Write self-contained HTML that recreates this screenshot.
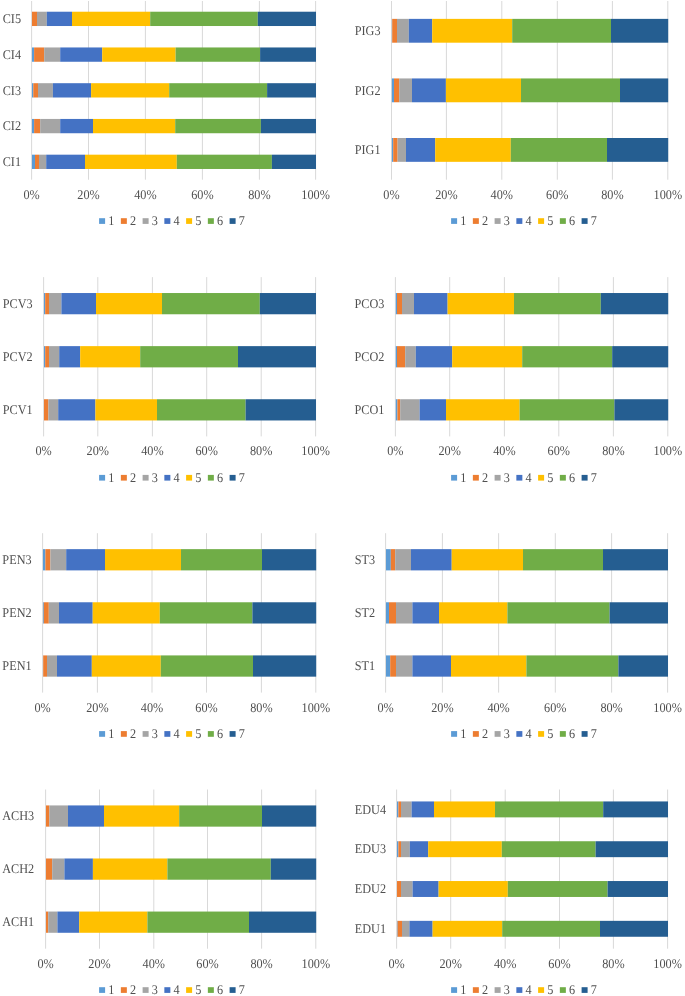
<!DOCTYPE html>
<html><head><meta charset="utf-8"><title>Charts</title>
<style>html,body{margin:0;padding:0;background:#fff;}svg{display:block;filter:blur(0.45px);}text{font-family:"Liberation Serif", serif;fill:#505050;text-rendering:geometricPrecision;}</style></head><body>
<svg width="685" height="996" viewBox="0 0 685 996">
<rect x="0" y="0" width="685" height="996" fill="#ffffff"/>
<g>
<rect x="31.1" y="1" width="1" height="178.7" fill="#D9D9D9"/>
<rect x="88" y="1" width="1" height="178.7" fill="#D9D9D9"/>
<rect x="144.9" y="1" width="1" height="178.7" fill="#D9D9D9"/>
<rect x="201.9" y="1" width="1" height="178.7" fill="#D9D9D9"/>
<rect x="258.9" y="1" width="1" height="178.7" fill="#D9D9D9"/>
<rect x="315.1" y="1" width="1" height="178.7" fill="#D9D9D9"/>
<rect x="32" y="11.72" width="5" height="14.3" fill="#ED7D31"/>
<rect x="37" y="11.72" width="9.8" height="14.3" fill="#A5A5A5"/>
<rect x="46.8" y="11.72" width="25.2" height="14.3" fill="#4472C4"/>
<rect x="72" y="11.72" width="78.2" height="14.3" fill="#FFC000"/>
<rect x="150.2" y="11.72" width="107.6" height="14.3" fill="#70AD47"/>
<rect x="257.8" y="11.72" width="58.2" height="14.3" fill="#255E91"/>
<text transform="translate(21,23.07) scale(0.92,1)" font-size="13.3" text-anchor="end">CI5</text>
<rect x="32" y="47.46" width="2.1" height="14.3" fill="#5B9BD5"/>
<rect x="34.1" y="47.46" width="10.1" height="14.3" fill="#ED7D31"/>
<rect x="44.2" y="47.46" width="16" height="14.3" fill="#A5A5A5"/>
<rect x="60.2" y="47.46" width="42" height="14.3" fill="#4472C4"/>
<rect x="102.2" y="47.46" width="73.4" height="14.3" fill="#FFC000"/>
<rect x="175.6" y="47.46" width="84.5" height="14.3" fill="#70AD47"/>
<rect x="260.1" y="47.46" width="55.9" height="14.3" fill="#255E91"/>
<text transform="translate(21,58.81) scale(0.92,1)" font-size="13.3" text-anchor="end">CI4</text>
<rect x="32" y="83.2" width="1.3" height="14.3" fill="#5B9BD5"/>
<rect x="33.3" y="83.2" width="4.7" height="14.3" fill="#ED7D31"/>
<rect x="38" y="83.2" width="14.9" height="14.3" fill="#A5A5A5"/>
<rect x="52.9" y="83.2" width="38.2" height="14.3" fill="#4472C4"/>
<rect x="91.1" y="83.2" width="78.1" height="14.3" fill="#FFC000"/>
<rect x="169.2" y="83.2" width="97.9" height="14.3" fill="#70AD47"/>
<rect x="267.1" y="83.2" width="48.9" height="14.3" fill="#255E91"/>
<text transform="translate(21,94.55) scale(0.92,1)" font-size="13.3" text-anchor="end">CI3</text>
<rect x="32" y="118.94" width="2.1" height="14.3" fill="#5B9BD5"/>
<rect x="34.1" y="118.94" width="6.1" height="14.3" fill="#ED7D31"/>
<rect x="40.2" y="118.94" width="20" height="14.3" fill="#A5A5A5"/>
<rect x="60.2" y="118.94" width="32.8" height="14.3" fill="#4472C4"/>
<rect x="93" y="118.94" width="82.2" height="14.3" fill="#FFC000"/>
<rect x="175.2" y="118.94" width="85.7" height="14.3" fill="#70AD47"/>
<rect x="260.9" y="118.94" width="55.1" height="14.3" fill="#255E91"/>
<text transform="translate(21,130.29) scale(0.92,1)" font-size="13.3" text-anchor="end">CI2</text>
<rect x="32" y="154.68" width="3" height="14.3" fill="#5B9BD5"/>
<rect x="35" y="154.68" width="4" height="14.3" fill="#ED7D31"/>
<rect x="39" y="154.68" width="7.2" height="14.3" fill="#A5A5A5"/>
<rect x="46.2" y="154.68" width="38.8" height="14.3" fill="#4472C4"/>
<rect x="85" y="154.68" width="91.8" height="14.3" fill="#FFC000"/>
<rect x="176.8" y="154.68" width="95.1" height="14.3" fill="#70AD47"/>
<rect x="271.9" y="154.68" width="44.1" height="14.3" fill="#255E91"/>
<text transform="translate(21,166.03) scale(0.92,1)" font-size="13.3" text-anchor="end">CI1</text>
<text transform="translate(31.6,198.6) scale(0.92,1)" font-size="13.3" text-anchor="middle">0%</text>
<text transform="translate(88.5,198.6) scale(0.92,1)" font-size="13.3" text-anchor="middle">20%</text>
<text transform="translate(145.4,198.6) scale(0.92,1)" font-size="13.3" text-anchor="middle">40%</text>
<text transform="translate(202.4,198.6) scale(0.92,1)" font-size="13.3" text-anchor="middle">60%</text>
<text transform="translate(259.4,198.6) scale(0.92,1)" font-size="13.3" text-anchor="middle">80%</text>
<text transform="translate(315.6,198.6) scale(0.92,1)" font-size="13.3" text-anchor="middle">100%</text>
<rect x="99.1" y="218.2" width="6" height="5.7" fill="#5B9BD5"/>
<text transform="translate(108.3,224.8) scale(0.92,1)" font-size="13.3">1</text>
<rect x="120.85" y="218.2" width="6" height="5.7" fill="#ED7D31"/>
<text transform="translate(130.05,224.8) scale(0.92,1)" font-size="13.3">2</text>
<rect x="142.6" y="218.2" width="6" height="5.7" fill="#A5A5A5"/>
<text transform="translate(151.8,224.8) scale(0.92,1)" font-size="13.3">3</text>
<rect x="164.35" y="218.2" width="6" height="5.7" fill="#4472C4"/>
<text transform="translate(173.55,224.8) scale(0.92,1)" font-size="13.3">4</text>
<rect x="186.1" y="218.2" width="6" height="5.7" fill="#FFC000"/>
<text transform="translate(195.3,224.8) scale(0.92,1)" font-size="13.3">5</text>
<rect x="207.85" y="218.2" width="6" height="5.7" fill="#70AD47"/>
<text transform="translate(217.05,224.8) scale(0.92,1)" font-size="13.3">6</text>
<rect x="229.6" y="218.2" width="6" height="5.7" fill="#255E91"/>
<text transform="translate(238.8,224.8) scale(0.92,1)" font-size="13.3">7</text>
</g>
<g>
<rect x="391" y="1" width="1" height="178.7" fill="#D9D9D9"/>
<rect x="445.9" y="1" width="1" height="178.7" fill="#D9D9D9"/>
<rect x="501.3" y="1" width="1" height="178.7" fill="#D9D9D9"/>
<rect x="556.8" y="1" width="1" height="178.7" fill="#D9D9D9"/>
<rect x="611.9" y="1" width="1" height="178.7" fill="#D9D9D9"/>
<rect x="667.3" y="1" width="1" height="178.7" fill="#D9D9D9"/>
<rect x="391.9" y="18.87" width="0.3" height="23.83" fill="#5B9BD5"/>
<rect x="392.2" y="18.87" width="4.8" height="23.83" fill="#ED7D31"/>
<rect x="397" y="18.87" width="11.8" height="23.83" fill="#A5A5A5"/>
<rect x="408.8" y="18.87" width="23.4" height="23.83" fill="#4472C4"/>
<rect x="432.2" y="18.87" width="80" height="23.83" fill="#FFC000"/>
<rect x="512.2" y="18.87" width="98.8" height="23.83" fill="#70AD47"/>
<rect x="611" y="18.87" width="57.2" height="23.83" fill="#255E91"/>
<text transform="translate(380.5,34.98) scale(0.92,1)" font-size="13.3" text-anchor="end">PIG3</text>
<rect x="391.9" y="78.44" width="2.1" height="23.83" fill="#5B9BD5"/>
<rect x="394" y="78.44" width="5.2" height="23.83" fill="#ED7D31"/>
<rect x="399.2" y="78.44" width="12.8" height="23.83" fill="#A5A5A5"/>
<rect x="412" y="78.44" width="33.9" height="23.83" fill="#4472C4"/>
<rect x="445.9" y="78.44" width="75.1" height="23.83" fill="#FFC000"/>
<rect x="521" y="78.44" width="99" height="23.83" fill="#70AD47"/>
<rect x="620" y="78.44" width="48.2" height="23.83" fill="#255E91"/>
<text transform="translate(380.5,94.55) scale(0.92,1)" font-size="13.3" text-anchor="end">PIG2</text>
<rect x="391.9" y="138" width="1.3" height="23.83" fill="#5B9BD5"/>
<rect x="393.2" y="138" width="4.4" height="23.83" fill="#ED7D31"/>
<rect x="397.6" y="138" width="8.4" height="23.83" fill="#A5A5A5"/>
<rect x="406" y="138" width="29.2" height="23.83" fill="#4472C4"/>
<rect x="435.2" y="138" width="75.6" height="23.83" fill="#FFC000"/>
<rect x="510.8" y="138" width="96.2" height="23.83" fill="#70AD47"/>
<rect x="607" y="138" width="61.2" height="23.83" fill="#255E91"/>
<text transform="translate(380.5,154.12) scale(0.92,1)" font-size="13.3" text-anchor="end">PIG1</text>
<text transform="translate(391.5,198.6) scale(0.92,1)" font-size="13.3" text-anchor="middle">0%</text>
<text transform="translate(446.4,198.6) scale(0.92,1)" font-size="13.3" text-anchor="middle">20%</text>
<text transform="translate(501.8,198.6) scale(0.92,1)" font-size="13.3" text-anchor="middle">40%</text>
<text transform="translate(557.3,198.6) scale(0.92,1)" font-size="13.3" text-anchor="middle">60%</text>
<text transform="translate(612.4,198.6) scale(0.92,1)" font-size="13.3" text-anchor="middle">80%</text>
<text transform="translate(667.8,198.6) scale(0.92,1)" font-size="13.3" text-anchor="middle">100%</text>
<rect x="451.1" y="218.2" width="6" height="5.7" fill="#5B9BD5"/>
<text transform="translate(460.3,224.8) scale(0.92,1)" font-size="13.3">1</text>
<rect x="472.85" y="218.2" width="6" height="5.7" fill="#ED7D31"/>
<text transform="translate(482.05,224.8) scale(0.92,1)" font-size="13.3">2</text>
<rect x="494.6" y="218.2" width="6" height="5.7" fill="#A5A5A5"/>
<text transform="translate(503.8,224.8) scale(0.92,1)" font-size="13.3">3</text>
<rect x="516.35" y="218.2" width="6" height="5.7" fill="#4472C4"/>
<text transform="translate(525.55,224.8) scale(0.92,1)" font-size="13.3">4</text>
<rect x="538.1" y="218.2" width="6" height="5.7" fill="#FFC000"/>
<text transform="translate(547.3,224.8) scale(0.92,1)" font-size="13.3">5</text>
<rect x="559.85" y="218.2" width="6" height="5.7" fill="#70AD47"/>
<text transform="translate(569.05,224.8) scale(0.92,1)" font-size="13.3">6</text>
<rect x="581.6" y="218.2" width="6" height="5.7" fill="#255E91"/>
<text transform="translate(590.8,224.8) scale(0.92,1)" font-size="13.3">7</text>
</g>
<g>
<rect x="43.1" y="277.1" width="1" height="159.3" fill="#D9D9D9"/>
<rect x="97.3" y="277.1" width="1" height="159.3" fill="#D9D9D9"/>
<rect x="151.9" y="277.1" width="1" height="159.3" fill="#D9D9D9"/>
<rect x="206.2" y="277.1" width="1" height="159.3" fill="#D9D9D9"/>
<rect x="260.7" y="277.1" width="1" height="159.3" fill="#D9D9D9"/>
<rect x="315.1" y="277.1" width="1" height="159.3" fill="#D9D9D9"/>
<rect x="44" y="293.03" width="1.2" height="21.24" fill="#5B9BD5"/>
<rect x="45.2" y="293.03" width="3.8" height="21.24" fill="#ED7D31"/>
<rect x="49" y="293.03" width="12.4" height="21.24" fill="#A5A5A5"/>
<rect x="61.4" y="293.03" width="34.6" height="21.24" fill="#4472C4"/>
<rect x="96" y="293.03" width="66" height="21.24" fill="#FFC000"/>
<rect x="162" y="293.03" width="97.8" height="21.24" fill="#70AD47"/>
<rect x="259.8" y="293.03" width="56.2" height="21.24" fill="#255E91"/>
<text transform="translate(32.6,307.85) scale(0.92,1)" font-size="13.3" text-anchor="end">PCV3</text>
<rect x="44" y="346.13" width="1.2" height="21.24" fill="#5B9BD5"/>
<rect x="45.2" y="346.13" width="3.8" height="21.24" fill="#ED7D31"/>
<rect x="49" y="346.13" width="10.2" height="21.24" fill="#A5A5A5"/>
<rect x="59.2" y="346.13" width="21" height="21.24" fill="#4472C4"/>
<rect x="80.2" y="346.13" width="60" height="21.24" fill="#FFC000"/>
<rect x="140.2" y="346.13" width="97.8" height="21.24" fill="#70AD47"/>
<rect x="238" y="346.13" width="78" height="21.24" fill="#255E91"/>
<text transform="translate(32.6,360.95) scale(0.92,1)" font-size="13.3" text-anchor="end">PCV2</text>
<rect x="44" y="399.23" width="4.4" height="21.24" fill="#ED7D31"/>
<rect x="48.4" y="399.23" width="9.8" height="21.24" fill="#A5A5A5"/>
<rect x="58.2" y="399.23" width="37.2" height="21.24" fill="#4472C4"/>
<rect x="95.4" y="399.23" width="61.6" height="21.24" fill="#FFC000"/>
<rect x="157" y="399.23" width="88.6" height="21.24" fill="#70AD47"/>
<rect x="245.6" y="399.23" width="70.4" height="21.24" fill="#255E91"/>
<text transform="translate(32.6,414.05) scale(0.92,1)" font-size="13.3" text-anchor="end">PCV1</text>
<text transform="translate(43.6,455.3) scale(0.92,1)" font-size="13.3" text-anchor="middle">0%</text>
<text transform="translate(97.8,455.3) scale(0.92,1)" font-size="13.3" text-anchor="middle">20%</text>
<text transform="translate(152.4,455.3) scale(0.92,1)" font-size="13.3" text-anchor="middle">40%</text>
<text transform="translate(206.7,455.3) scale(0.92,1)" font-size="13.3" text-anchor="middle">60%</text>
<text transform="translate(261.2,455.3) scale(0.92,1)" font-size="13.3" text-anchor="middle">80%</text>
<text transform="translate(315.6,455.3) scale(0.92,1)" font-size="13.3" text-anchor="middle">100%</text>
<rect x="99.1" y="474.9" width="6" height="5.7" fill="#5B9BD5"/>
<text transform="translate(108.3,481.5) scale(0.92,1)" font-size="13.3">1</text>
<rect x="120.85" y="474.9" width="6" height="5.7" fill="#ED7D31"/>
<text transform="translate(130.05,481.5) scale(0.92,1)" font-size="13.3">2</text>
<rect x="142.6" y="474.9" width="6" height="5.7" fill="#A5A5A5"/>
<text transform="translate(151.8,481.5) scale(0.92,1)" font-size="13.3">3</text>
<rect x="164.35" y="474.9" width="6" height="5.7" fill="#4472C4"/>
<text transform="translate(173.55,481.5) scale(0.92,1)" font-size="13.3">4</text>
<rect x="186.1" y="474.9" width="6" height="5.7" fill="#FFC000"/>
<text transform="translate(195.3,481.5) scale(0.92,1)" font-size="13.3">5</text>
<rect x="207.85" y="474.9" width="6" height="5.7" fill="#70AD47"/>
<text transform="translate(217.05,481.5) scale(0.92,1)" font-size="13.3">6</text>
<rect x="229.6" y="474.9" width="6" height="5.7" fill="#255E91"/>
<text transform="translate(238.8,481.5) scale(0.92,1)" font-size="13.3">7</text>
</g>
<g>
<rect x="394.9" y="277.1" width="1" height="159.3" fill="#D9D9D9"/>
<rect x="449.2" y="277.1" width="1" height="159.3" fill="#D9D9D9"/>
<rect x="503.9" y="277.1" width="1" height="159.3" fill="#D9D9D9"/>
<rect x="558.3" y="277.1" width="1" height="159.3" fill="#D9D9D9"/>
<rect x="612.9" y="277.1" width="1" height="159.3" fill="#D9D9D9"/>
<rect x="667.3" y="277.1" width="1" height="159.3" fill="#D9D9D9"/>
<rect x="395.8" y="293.03" width="1.2" height="21.24" fill="#5B9BD5"/>
<rect x="397" y="293.03" width="5" height="21.24" fill="#ED7D31"/>
<rect x="402" y="293.03" width="12" height="21.24" fill="#A5A5A5"/>
<rect x="414" y="293.03" width="33.6" height="21.24" fill="#4472C4"/>
<rect x="447.6" y="293.03" width="66.4" height="21.24" fill="#FFC000"/>
<rect x="514" y="293.03" width="86.8" height="21.24" fill="#70AD47"/>
<rect x="600.8" y="293.03" width="67.4" height="21.24" fill="#255E91"/>
<text transform="translate(384.4,307.85) scale(0.92,1)" font-size="13.3" text-anchor="end">PCO3</text>
<rect x="395.8" y="346.13" width="1.2" height="21.24" fill="#5B9BD5"/>
<rect x="397" y="346.13" width="8.2" height="21.24" fill="#ED7D31"/>
<rect x="405.2" y="346.13" width="10.6" height="21.24" fill="#A5A5A5"/>
<rect x="415.8" y="346.13" width="36.4" height="21.24" fill="#4472C4"/>
<rect x="452.2" y="346.13" width="70" height="21.24" fill="#FFC000"/>
<rect x="522.2" y="346.13" width="90" height="21.24" fill="#70AD47"/>
<rect x="612.2" y="346.13" width="56" height="21.24" fill="#255E91"/>
<text transform="translate(384.4,360.95) scale(0.92,1)" font-size="13.3" text-anchor="end">PCO2</text>
<rect x="395.8" y="399.23" width="1.6" height="21.24" fill="#5B9BD5"/>
<rect x="397.4" y="399.23" width="2.8" height="21.24" fill="#ED7D31"/>
<rect x="400.2" y="399.23" width="19.4" height="21.24" fill="#A5A5A5"/>
<rect x="419.6" y="399.23" width="26.4" height="21.24" fill="#4472C4"/>
<rect x="446" y="399.23" width="73.6" height="21.24" fill="#FFC000"/>
<rect x="519.6" y="399.23" width="94.8" height="21.24" fill="#70AD47"/>
<rect x="614.4" y="399.23" width="53.8" height="21.24" fill="#255E91"/>
<text transform="translate(384.4,414.05) scale(0.92,1)" font-size="13.3" text-anchor="end">PCO1</text>
<text transform="translate(395.4,455.3) scale(0.92,1)" font-size="13.3" text-anchor="middle">0%</text>
<text transform="translate(449.7,455.3) scale(0.92,1)" font-size="13.3" text-anchor="middle">20%</text>
<text transform="translate(504.4,455.3) scale(0.92,1)" font-size="13.3" text-anchor="middle">40%</text>
<text transform="translate(558.8,455.3) scale(0.92,1)" font-size="13.3" text-anchor="middle">60%</text>
<text transform="translate(613.4,455.3) scale(0.92,1)" font-size="13.3" text-anchor="middle">80%</text>
<text transform="translate(667.8,455.3) scale(0.92,1)" font-size="13.3" text-anchor="middle">100%</text>
<rect x="451.1" y="474.9" width="6" height="5.7" fill="#5B9BD5"/>
<text transform="translate(460.3,481.5) scale(0.92,1)" font-size="13.3">1</text>
<rect x="472.85" y="474.9" width="6" height="5.7" fill="#ED7D31"/>
<text transform="translate(482.05,481.5) scale(0.92,1)" font-size="13.3">2</text>
<rect x="494.6" y="474.9" width="6" height="5.7" fill="#A5A5A5"/>
<text transform="translate(503.8,481.5) scale(0.92,1)" font-size="13.3">3</text>
<rect x="516.35" y="474.9" width="6" height="5.7" fill="#4472C4"/>
<text transform="translate(525.55,481.5) scale(0.92,1)" font-size="13.3">4</text>
<rect x="538.1" y="474.9" width="6" height="5.7" fill="#FFC000"/>
<text transform="translate(547.3,481.5) scale(0.92,1)" font-size="13.3">5</text>
<rect x="559.85" y="474.9" width="6" height="5.7" fill="#70AD47"/>
<text transform="translate(569.05,481.5) scale(0.92,1)" font-size="13.3">6</text>
<rect x="581.6" y="474.9" width="6" height="5.7" fill="#255E91"/>
<text transform="translate(590.8,481.5) scale(0.92,1)" font-size="13.3">7</text>
</g>
<g>
<rect x="42.1" y="533.2" width="1" height="159.4" fill="#D9D9D9"/>
<rect x="96.9" y="533.2" width="1" height="159.4" fill="#D9D9D9"/>
<rect x="151.5" y="533.2" width="1" height="159.4" fill="#D9D9D9"/>
<rect x="206" y="533.2" width="1" height="159.4" fill="#D9D9D9"/>
<rect x="260.9" y="533.2" width="1" height="159.4" fill="#D9D9D9"/>
<rect x="315.3" y="533.2" width="1" height="159.4" fill="#D9D9D9"/>
<rect x="43" y="549.14" width="2.4" height="21.25" fill="#5B9BD5"/>
<rect x="45.4" y="549.14" width="5" height="21.25" fill="#ED7D31"/>
<rect x="50.4" y="549.14" width="15.8" height="21.25" fill="#A5A5A5"/>
<rect x="66.2" y="549.14" width="38.8" height="21.25" fill="#4472C4"/>
<rect x="105" y="549.14" width="76" height="21.25" fill="#FFC000"/>
<rect x="181" y="549.14" width="81" height="21.25" fill="#70AD47"/>
<rect x="262" y="549.14" width="54.2" height="21.25" fill="#255E91"/>
<text transform="translate(31.6,563.97) scale(0.92,1)" font-size="13.3" text-anchor="end">PEN3</text>
<rect x="43" y="602.27" width="0.8" height="21.25" fill="#5B9BD5"/>
<rect x="43.8" y="602.27" width="5" height="21.25" fill="#ED7D31"/>
<rect x="48.8" y="602.27" width="10.2" height="21.25" fill="#A5A5A5"/>
<rect x="59" y="602.27" width="33.7" height="21.25" fill="#4472C4"/>
<rect x="92.7" y="602.27" width="67.1" height="21.25" fill="#FFC000"/>
<rect x="159.8" y="602.27" width="92.6" height="21.25" fill="#70AD47"/>
<rect x="252.4" y="602.27" width="63.8" height="21.25" fill="#255E91"/>
<text transform="translate(31.6,617.1) scale(0.92,1)" font-size="13.3" text-anchor="end">PEN2</text>
<rect x="43" y="655.41" width="0.2" height="21.25" fill="#5B9BD5"/>
<rect x="43.2" y="655.41" width="3.8" height="21.25" fill="#ED7D31"/>
<rect x="47" y="655.41" width="10" height="21.25" fill="#A5A5A5"/>
<rect x="57" y="655.41" width="34.8" height="21.25" fill="#4472C4"/>
<rect x="91.8" y="655.41" width="69" height="21.25" fill="#FFC000"/>
<rect x="160.8" y="655.41" width="92.2" height="21.25" fill="#70AD47"/>
<rect x="253" y="655.41" width="63.2" height="21.25" fill="#255E91"/>
<text transform="translate(31.6,670.23) scale(0.92,1)" font-size="13.3" text-anchor="end">PEN1</text>
<text transform="translate(42.6,711.5) scale(0.92,1)" font-size="13.3" text-anchor="middle">0%</text>
<text transform="translate(97.4,711.5) scale(0.92,1)" font-size="13.3" text-anchor="middle">20%</text>
<text transform="translate(152,711.5) scale(0.92,1)" font-size="13.3" text-anchor="middle">40%</text>
<text transform="translate(206.5,711.5) scale(0.92,1)" font-size="13.3" text-anchor="middle">60%</text>
<text transform="translate(261.4,711.5) scale(0.92,1)" font-size="13.3" text-anchor="middle">80%</text>
<text transform="translate(315.8,711.5) scale(0.92,1)" font-size="13.3" text-anchor="middle">100%</text>
<rect x="99.1" y="731.1" width="6" height="5.7" fill="#5B9BD5"/>
<text transform="translate(108.3,737.7) scale(0.92,1)" font-size="13.3">1</text>
<rect x="120.85" y="731.1" width="6" height="5.7" fill="#ED7D31"/>
<text transform="translate(130.05,737.7) scale(0.92,1)" font-size="13.3">2</text>
<rect x="142.6" y="731.1" width="6" height="5.7" fill="#A5A5A5"/>
<text transform="translate(151.8,737.7) scale(0.92,1)" font-size="13.3">3</text>
<rect x="164.35" y="731.1" width="6" height="5.7" fill="#4472C4"/>
<text transform="translate(173.55,737.7) scale(0.92,1)" font-size="13.3">4</text>
<rect x="186.1" y="731.1" width="6" height="5.7" fill="#FFC000"/>
<text transform="translate(195.3,737.7) scale(0.92,1)" font-size="13.3">5</text>
<rect x="207.85" y="731.1" width="6" height="5.7" fill="#70AD47"/>
<text transform="translate(217.05,737.7) scale(0.92,1)" font-size="13.3">6</text>
<rect x="229.6" y="731.1" width="6" height="5.7" fill="#255E91"/>
<text transform="translate(238.8,737.7) scale(0.92,1)" font-size="13.3">7</text>
</g>
<g>
<rect x="385.1" y="533.2" width="1" height="159.4" fill="#D9D9D9"/>
<rect x="441.9" y="533.2" width="1" height="159.4" fill="#D9D9D9"/>
<rect x="498.1" y="533.2" width="1" height="159.4" fill="#D9D9D9"/>
<rect x="554.8" y="533.2" width="1" height="159.4" fill="#D9D9D9"/>
<rect x="611.1" y="533.2" width="1" height="159.4" fill="#D9D9D9"/>
<rect x="667.1" y="533.2" width="1" height="159.4" fill="#D9D9D9"/>
<rect x="386" y="549.14" width="4.8" height="21.25" fill="#5B9BD5"/>
<rect x="390.8" y="549.14" width="4.4" height="21.25" fill="#ED7D31"/>
<rect x="395.2" y="549.14" width="15.8" height="21.25" fill="#A5A5A5"/>
<rect x="411" y="549.14" width="40.7" height="21.25" fill="#4472C4"/>
<rect x="451.7" y="549.14" width="71.3" height="21.25" fill="#FFC000"/>
<rect x="523" y="549.14" width="80" height="21.25" fill="#70AD47"/>
<rect x="603" y="549.14" width="65" height="21.25" fill="#255E91"/>
<text transform="translate(375.1,563.97) scale(0.92,1)" font-size="13.3" text-anchor="end">ST3</text>
<rect x="386" y="602.27" width="3" height="21.25" fill="#5B9BD5"/>
<rect x="389" y="602.27" width="7" height="21.25" fill="#ED7D31"/>
<rect x="396" y="602.27" width="16.4" height="21.25" fill="#A5A5A5"/>
<rect x="412.4" y="602.27" width="26.6" height="21.25" fill="#4472C4"/>
<rect x="439" y="602.27" width="68.4" height="21.25" fill="#FFC000"/>
<rect x="507.4" y="602.27" width="102.2" height="21.25" fill="#70AD47"/>
<rect x="609.6" y="602.27" width="58.4" height="21.25" fill="#255E91"/>
<text transform="translate(375.1,617.1) scale(0.92,1)" font-size="13.3" text-anchor="end">ST2</text>
<rect x="386" y="655.41" width="4.2" height="21.25" fill="#5B9BD5"/>
<rect x="390.2" y="655.41" width="5.8" height="21.25" fill="#ED7D31"/>
<rect x="396" y="655.41" width="16.4" height="21.25" fill="#A5A5A5"/>
<rect x="412.4" y="655.41" width="38.6" height="21.25" fill="#4472C4"/>
<rect x="451" y="655.41" width="75.4" height="21.25" fill="#FFC000"/>
<rect x="526.4" y="655.41" width="92" height="21.25" fill="#70AD47"/>
<rect x="618.4" y="655.41" width="49.6" height="21.25" fill="#255E91"/>
<text transform="translate(375.1,670.23) scale(0.92,1)" font-size="13.3" text-anchor="end">ST1</text>
<text transform="translate(385.6,711.5) scale(0.92,1)" font-size="13.3" text-anchor="middle">0%</text>
<text transform="translate(442.4,711.5) scale(0.92,1)" font-size="13.3" text-anchor="middle">20%</text>
<text transform="translate(498.6,711.5) scale(0.92,1)" font-size="13.3" text-anchor="middle">40%</text>
<text transform="translate(555.3,711.5) scale(0.92,1)" font-size="13.3" text-anchor="middle">60%</text>
<text transform="translate(611.6,711.5) scale(0.92,1)" font-size="13.3" text-anchor="middle">80%</text>
<text transform="translate(667.6,711.5) scale(0.92,1)" font-size="13.3" text-anchor="middle">100%</text>
<rect x="451.1" y="731.1" width="6" height="5.7" fill="#5B9BD5"/>
<text transform="translate(460.3,737.7) scale(0.92,1)" font-size="13.3">1</text>
<rect x="472.85" y="731.1" width="6" height="5.7" fill="#ED7D31"/>
<text transform="translate(482.05,737.7) scale(0.92,1)" font-size="13.3">2</text>
<rect x="494.6" y="731.1" width="6" height="5.7" fill="#A5A5A5"/>
<text transform="translate(503.8,737.7) scale(0.92,1)" font-size="13.3">3</text>
<rect x="516.35" y="731.1" width="6" height="5.7" fill="#4472C4"/>
<text transform="translate(525.55,737.7) scale(0.92,1)" font-size="13.3">4</text>
<rect x="538.1" y="731.1" width="6" height="5.7" fill="#FFC000"/>
<text transform="translate(547.3,737.7) scale(0.92,1)" font-size="13.3">5</text>
<rect x="559.85" y="731.1" width="6" height="5.7" fill="#70AD47"/>
<text transform="translate(569.05,737.7) scale(0.92,1)" font-size="13.3">6</text>
<rect x="581.6" y="731.1" width="6" height="5.7" fill="#255E91"/>
<text transform="translate(590.8,737.7) scale(0.92,1)" font-size="13.3">7</text>
</g>
<g>
<rect x="45.1" y="789.5" width="1" height="159.2" fill="#D9D9D9"/>
<rect x="99" y="789.5" width="1" height="159.2" fill="#D9D9D9"/>
<rect x="153.3" y="789.5" width="1" height="159.2" fill="#D9D9D9"/>
<rect x="207" y="789.5" width="1" height="159.2" fill="#D9D9D9"/>
<rect x="261.1" y="789.5" width="1" height="159.2" fill="#D9D9D9"/>
<rect x="315.3" y="789.5" width="1" height="159.2" fill="#D9D9D9"/>
<rect x="46" y="805.42" width="3.4" height="21.23" fill="#ED7D31"/>
<rect x="49.4" y="805.42" width="18.6" height="21.23" fill="#A5A5A5"/>
<rect x="68" y="805.42" width="36" height="21.23" fill="#4472C4"/>
<rect x="104" y="805.42" width="75.2" height="21.23" fill="#FFC000"/>
<rect x="179.2" y="805.42" width="82.8" height="21.23" fill="#70AD47"/>
<rect x="262" y="805.42" width="54.2" height="21.23" fill="#255E91"/>
<text transform="translate(34.2,820.23) scale(0.92,1)" font-size="13.3" text-anchor="end">ACH3</text>
<rect x="46" y="858.49" width="6.2" height="21.23" fill="#ED7D31"/>
<rect x="52.2" y="858.49" width="12.2" height="21.23" fill="#A5A5A5"/>
<rect x="64.4" y="858.49" width="28.5" height="21.23" fill="#4472C4"/>
<rect x="92.9" y="858.49" width="74.5" height="21.23" fill="#FFC000"/>
<rect x="167.4" y="858.49" width="103.4" height="21.23" fill="#70AD47"/>
<rect x="270.8" y="858.49" width="45.4" height="21.23" fill="#255E91"/>
<text transform="translate(34.2,873.3) scale(0.92,1)" font-size="13.3" text-anchor="end">ACH2</text>
<rect x="46" y="911.55" width="2.2" height="21.23" fill="#ED7D31"/>
<rect x="48.2" y="911.55" width="9.2" height="21.23" fill="#A5A5A5"/>
<rect x="57.4" y="911.55" width="21.8" height="21.23" fill="#4472C4"/>
<rect x="79.2" y="911.55" width="68.2" height="21.23" fill="#FFC000"/>
<rect x="147.4" y="911.55" width="101.6" height="21.23" fill="#70AD47"/>
<rect x="249" y="911.55" width="67.2" height="21.23" fill="#255E91"/>
<text transform="translate(34.2,926.37) scale(0.92,1)" font-size="13.3" text-anchor="end">ACH1</text>
<text transform="translate(45.6,967.6) scale(0.92,1)" font-size="13.3" text-anchor="middle">0%</text>
<text transform="translate(99.5,967.6) scale(0.92,1)" font-size="13.3" text-anchor="middle">20%</text>
<text transform="translate(153.8,967.6) scale(0.92,1)" font-size="13.3" text-anchor="middle">40%</text>
<text transform="translate(207.5,967.6) scale(0.92,1)" font-size="13.3" text-anchor="middle">60%</text>
<text transform="translate(261.6,967.6) scale(0.92,1)" font-size="13.3" text-anchor="middle">80%</text>
<text transform="translate(315.8,967.6) scale(0.92,1)" font-size="13.3" text-anchor="middle">100%</text>
<rect x="99.1" y="987.2" width="6" height="5.7" fill="#5B9BD5"/>
<text transform="translate(108.3,993.8) scale(0.92,1)" font-size="13.3">1</text>
<rect x="120.85" y="987.2" width="6" height="5.7" fill="#ED7D31"/>
<text transform="translate(130.05,993.8) scale(0.92,1)" font-size="13.3">2</text>
<rect x="142.6" y="987.2" width="6" height="5.7" fill="#A5A5A5"/>
<text transform="translate(151.8,993.8) scale(0.92,1)" font-size="13.3">3</text>
<rect x="164.35" y="987.2" width="6" height="5.7" fill="#4472C4"/>
<text transform="translate(173.55,993.8) scale(0.92,1)" font-size="13.3">4</text>
<rect x="186.1" y="987.2" width="6" height="5.7" fill="#FFC000"/>
<text transform="translate(195.3,993.8) scale(0.92,1)" font-size="13.3">5</text>
<rect x="207.85" y="987.2" width="6" height="5.7" fill="#70AD47"/>
<text transform="translate(217.05,993.8) scale(0.92,1)" font-size="13.3">6</text>
<rect x="229.6" y="987.2" width="6" height="5.7" fill="#255E91"/>
<text transform="translate(238.8,993.8) scale(0.92,1)" font-size="13.3">7</text>
</g>
<g>
<rect x="396.1" y="789.5" width="1" height="159.2" fill="#D9D9D9"/>
<rect x="450.2" y="789.5" width="1" height="159.2" fill="#D9D9D9"/>
<rect x="504.7" y="789.5" width="1" height="159.2" fill="#D9D9D9"/>
<rect x="559" y="789.5" width="1" height="159.2" fill="#D9D9D9"/>
<rect x="612.9" y="789.5" width="1" height="159.2" fill="#D9D9D9"/>
<rect x="667.1" y="789.5" width="1" height="159.2" fill="#D9D9D9"/>
<rect x="397" y="801.44" width="1.4" height="15.92" fill="#5B9BD5"/>
<rect x="398.4" y="801.44" width="2.6" height="15.92" fill="#ED7D31"/>
<rect x="401" y="801.44" width="10.6" height="15.92" fill="#A5A5A5"/>
<rect x="411.6" y="801.44" width="22.4" height="15.92" fill="#4472C4"/>
<rect x="434" y="801.44" width="61" height="15.92" fill="#FFC000"/>
<rect x="495" y="801.44" width="108.2" height="15.92" fill="#70AD47"/>
<rect x="603.2" y="801.44" width="64.8" height="15.92" fill="#255E91"/>
<text transform="translate(386,813.6) scale(0.92,1)" font-size="13.3" text-anchor="end">EDU4</text>
<rect x="397" y="841.24" width="1.4" height="15.92" fill="#5B9BD5"/>
<rect x="398.4" y="841.24" width="2.6" height="15.92" fill="#ED7D31"/>
<rect x="401" y="841.24" width="8.8" height="15.92" fill="#A5A5A5"/>
<rect x="409.8" y="841.24" width="18.4" height="15.92" fill="#4472C4"/>
<rect x="428.2" y="841.24" width="73.6" height="15.92" fill="#FFC000"/>
<rect x="501.8" y="841.24" width="93.8" height="15.92" fill="#70AD47"/>
<rect x="595.6" y="841.24" width="72.4" height="15.92" fill="#255E91"/>
<text transform="translate(386,853.4) scale(0.92,1)" font-size="13.3" text-anchor="end">EDU3</text>
<rect x="397" y="881.04" width="4" height="15.92" fill="#ED7D31"/>
<rect x="401" y="881.04" width="11.6" height="15.92" fill="#A5A5A5"/>
<rect x="412.6" y="881.04" width="26" height="15.92" fill="#4472C4"/>
<rect x="438.6" y="881.04" width="69.2" height="15.92" fill="#FFC000"/>
<rect x="507.8" y="881.04" width="99.8" height="15.92" fill="#70AD47"/>
<rect x="607.6" y="881.04" width="60.4" height="15.92" fill="#255E91"/>
<text transform="translate(386,893.2) scale(0.92,1)" font-size="13.3" text-anchor="end">EDU2</text>
<rect x="397" y="920.84" width="0.6" height="15.92" fill="#5B9BD5"/>
<rect x="397.6" y="920.84" width="4.4" height="15.92" fill="#ED7D31"/>
<rect x="402" y="920.84" width="7.4" height="15.92" fill="#A5A5A5"/>
<rect x="409.4" y="920.84" width="23.2" height="15.92" fill="#4472C4"/>
<rect x="432.6" y="920.84" width="69.6" height="15.92" fill="#FFC000"/>
<rect x="502.2" y="920.84" width="97.8" height="15.92" fill="#70AD47"/>
<rect x="600" y="920.84" width="68" height="15.92" fill="#255E91"/>
<text transform="translate(386,933) scale(0.92,1)" font-size="13.3" text-anchor="end">EDU1</text>
<text transform="translate(396.6,967.6) scale(0.92,1)" font-size="13.3" text-anchor="middle">0%</text>
<text transform="translate(450.7,967.6) scale(0.92,1)" font-size="13.3" text-anchor="middle">20%</text>
<text transform="translate(505.2,967.6) scale(0.92,1)" font-size="13.3" text-anchor="middle">40%</text>
<text transform="translate(559.5,967.6) scale(0.92,1)" font-size="13.3" text-anchor="middle">60%</text>
<text transform="translate(613.4,967.6) scale(0.92,1)" font-size="13.3" text-anchor="middle">80%</text>
<text transform="translate(667.6,967.6) scale(0.92,1)" font-size="13.3" text-anchor="middle">100%</text>
<rect x="451.1" y="987.2" width="6" height="5.7" fill="#5B9BD5"/>
<text transform="translate(460.3,993.8) scale(0.92,1)" font-size="13.3">1</text>
<rect x="472.85" y="987.2" width="6" height="5.7" fill="#ED7D31"/>
<text transform="translate(482.05,993.8) scale(0.92,1)" font-size="13.3">2</text>
<rect x="494.6" y="987.2" width="6" height="5.7" fill="#A5A5A5"/>
<text transform="translate(503.8,993.8) scale(0.92,1)" font-size="13.3">3</text>
<rect x="516.35" y="987.2" width="6" height="5.7" fill="#4472C4"/>
<text transform="translate(525.55,993.8) scale(0.92,1)" font-size="13.3">4</text>
<rect x="538.1" y="987.2" width="6" height="5.7" fill="#FFC000"/>
<text transform="translate(547.3,993.8) scale(0.92,1)" font-size="13.3">5</text>
<rect x="559.85" y="987.2" width="6" height="5.7" fill="#70AD47"/>
<text transform="translate(569.05,993.8) scale(0.92,1)" font-size="13.3">6</text>
<rect x="581.6" y="987.2" width="6" height="5.7" fill="#255E91"/>
<text transform="translate(590.8,993.8) scale(0.92,1)" font-size="13.3">7</text>
</g>
</svg>
</body></html>
